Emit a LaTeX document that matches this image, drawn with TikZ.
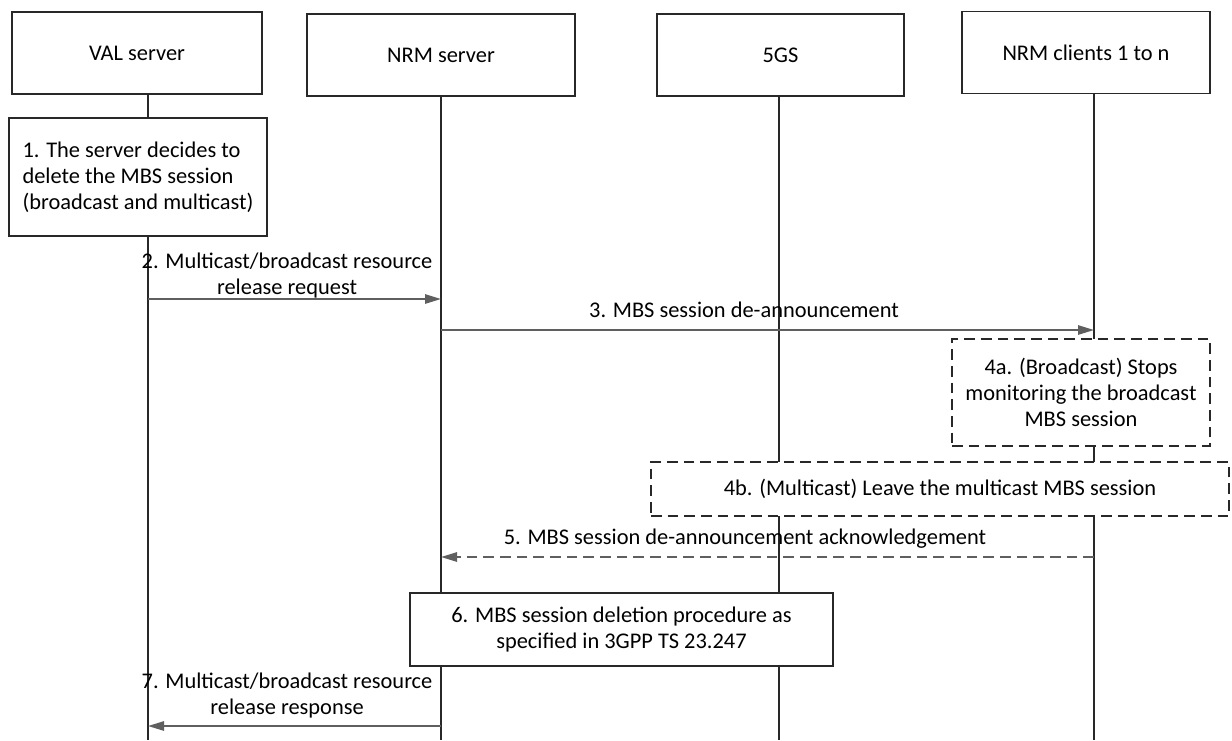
\documentclass[tikz,border=0pt]{standalone}
\usepackage{fontspec}
\setmainfont{Carlito}
\usepackage{tikz}
\usetikzlibrary{arrows.meta}

\definecolor{boxline}{RGB}{40,40,40}
\definecolor{msgline}{RGB}{95,95,95}
\newcommand{\diagfont}{\fontsize{16.8}{19.5}\selectfont}

\tikzset{
	actor/.style={draw=boxline, line width=1.3pt, fill=white, minimum height=61.5pt, inner sep=0pt, font=\diagfont},
	stepbox/.style={draw=boxline, line width=1.3pt, fill=white, inner sep=0pt, font=\diagfont},
	optbox/.style={stepbox, dash pattern=on 8pt off 4.5pt},
	lifeline/.style={draw=boxline, line width=1.2pt},
	msg/.style={draw=msgline, line width=1.3pt, -{Triangle[length=12pt, width=7pt]}},
	msglabel/.style={font=\diagfont, align=center, anchor=south, inner sep=0pt, text depth=0pt},
}

\begin{document}
\begin{tikzpicture}[x=0.75pt, y=-0.75pt]
			\useasboundingbox (0,0) rectangle (1232,740);
			
			\foreach \name/\x/\y/\w/\label in {
				val/137/53/187.5/VAL server,
				nrm/441/55/201/NRM server,
				fgs/780.5/55/185.25/5GS,
				cli/1086/52.5/186/NRM clients 1 to n
			}{
				\node[actor, minimum width=\w pt] (\name) at (\x,\y) {\label};
			}
			
			\coordinate (valend) at (148,740);
			\coordinate (nrmend) at (441,740);
			\coordinate (fgsend) at (779,740);
			\coordinate (cliend) at (1094,740);
			
			\foreach \name in {val, nrm, fgs, cli}{
				\draw[lifeline] (\name end |- \name.south) -- (\name end);
			}
			
			\node[stepbox, align=left, minimum width=193.5pt, minimum height=88.5pt] (s1) at (138,177)
				{1. The server decides to\\delete the MBS session\\(broadcast and multicast)};
			\node[optbox, align=center, minimum width=193.5pt, minimum height=80.25pt] (s4a) at (1081,392.5)
				{4a. (Broadcast) Stops\\monitoring the broadcast\\MBS session};
			\node[optbox, minimum width=433.5pt, minimum height=40.5pt] (s4b) at (940,489)
				{4b. (Multicast) Leave the multicast MBS session};
			\node[stepbox, align=center, minimum width=317.25pt, minimum height=54.75pt] (s6) at (621.5,629.5)
				{6. MBS session deletion procedure as\\specified in 3GPP TS 23.247};
			
			\coordinate (a2) at (148,299);
			\coordinate (b2) at (441,299);
			\coordinate (b3) at (441,330);
			\coordinate (d3) at (1094,330);
			\coordinate (d5) at (1094,557);
			\coordinate (b5) at (441,557);
			\coordinate (b7) at (441,726);
			\coordinate (a7) at (148,726);
			
			\draw[msg] (a2) -- node[msglabel, xshift=-5.6pt, yshift=3pt]
				{2. Multicast/broadcast resource\\release request} (b2);
			\draw[msg] (b3) -- node[msglabel, xshift=-17.6pt, yshift=9pt]
				{3. MBS session de-announcement} (d3);
			\draw[msg, dash pattern=on 8pt off 4.5pt] (d5) -- node[msglabel, xshift=-16.9pt, yshift=9pt]
				{5. MBS session de-announcement acknowledgement} (b5);
			\draw[msg] (b7) -- node[msglabel, xshift=-5.6pt, yshift=8.25pt]
				{7. Multicast/broadcast resource\\release response} (a7);
		\end{tikzpicture}
\end{document}
